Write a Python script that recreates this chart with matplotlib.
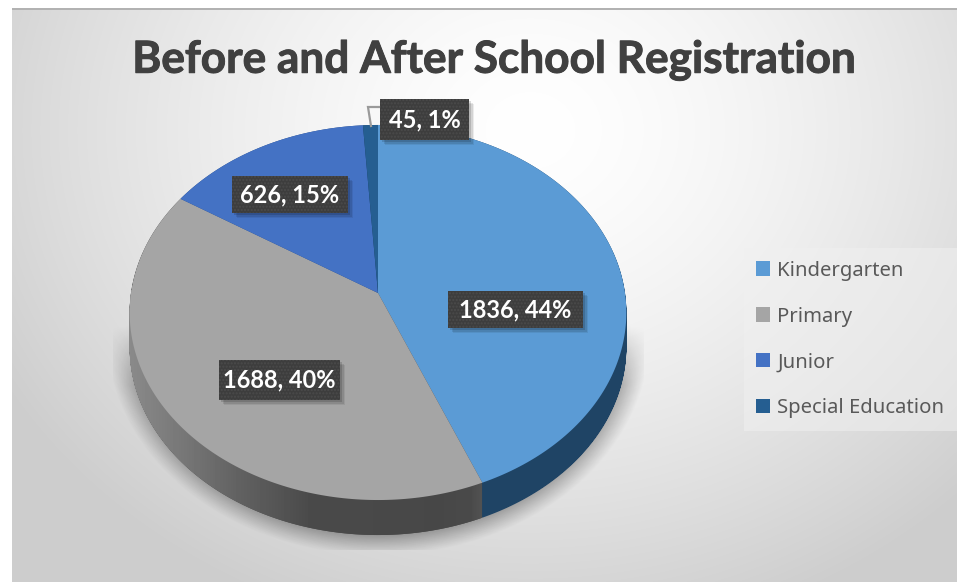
import numpy as np
import matplotlib
matplotlib.use("Agg")
import matplotlib.pyplot as plt
import matplotlib.patheffects as pe
from matplotlib.path import Path
from matplotlib.patches import PathPatch, Rectangle
from matplotlib.transforms import Transform

title = "Before and After School Registration"
categories = ["Kindergarten", "Primary", "Junior", "Special Education"]
values = [1836, 1688, 626, 45]
percents = [44, 40, 15, 1]
colors = ["#5b9bd5", "#a5a5a5", "#4472c4", "#255e91"]

W, H = 957, 582
CX, CY, SX, K, C = 378, 293, 247, 185.5, 0.104
DEPTH = 35


def flatten(path):
    """Sample every curve of a wedge outline densely."""
    pts = []
    for bez, code in path.iter_bezier():
        if code == Path.MOVETO:
            pts.append(bez.control_points[0][None, :])
        else:
            pts.append(bez(np.linspace(0, 1, 40)[1:]))
    return np.vstack(pts)


class Persp(Transform):
    input_dims = output_dims = 2
    is_separable = False
    has_inverse = False

    def transform_non_affine(self, v):
        v = np.asarray(v, float)
        d = 1 + C * v[:, 1]
        return np.column_stack((CX + SX * v[:, 0] / d, CY - K * v[:, 1] / d))

    def transform_path_non_affine(self, path):
        return Path(self.transform_non_affine(flatten(path)))


fig = plt.figure(figsize=(W / 100, H / 100), dpi=100, facecolor="white")
ax = fig.add_axes([0, 0, 1, 1])

# background
yy, xx = np.mgrid[0:H, 0:W]
d = np.sqrt(((xx - 530) / 610.0) ** 2 + ((yy - 130) / 520.0) ** 2)
v = np.clip(255 - 50 * d ** 1.5, 205, 255) / 255
bg = np.dstack((v, v, v, (xx >= 12) & (yy >= 8)))
bg[(yy >= 8) & (yy < 10) & (xx >= 12)] = (0.70, 0.70, 0.70, 1)
ax.imshow(bg.astype(float), extent=(0, W, H, 0), zorder=0, interpolation="bilinear")

# soft shadow under the pie
r = np.sqrt(((xx - 378) / 272.0) ** 2 + ((yy - 335) / 220.0) ** 2)
a = (np.clip((1.0 - r) / 0.12, 0, 1) ** 1.1 * 0.42 * np.clip((yy - 325) / 60.0, 0, 1)
     * (yy < 550) * (xx >= 113) * (xx <= 643))
ax.imshow(np.dstack((np.zeros_like(a), np.zeros_like(a), np.zeros_like(a), a)),
          extent=(0, W, H, 0), zorder=1)

wedges, _ = ax.pie(values, colors=colors, startangle=90, counterclock=False, radius=1, frame=True)
persp = Persp()
for w in wedges:
    w.set_transform(persp + ax.transData)
    w.set_zorder(5)
    w.set_linewidth(0)

ax.set_aspect("auto")
ax.axis("off")

# extruded side walls
side_colors = ["#1f4465", "#4a4a4a", "#2b4a80", "#173a5c"]
for w, col in zip(wedges, side_colors):
    poly = persp.transform_non_affine(flatten(w.get_path()))
    copies = [Path(poly + [0, s]) for s in np.linspace(0, DEPTH, DEPTH + 1)]
    patch = PathPatch(Path.make_compound_path(*copies), facecolor=col, lw=0, zorder=3)
    ax.add_patch(patch)
    if col == "#4a4a4a":
        grad = np.interp(np.arange(125, 482), [130, 180, 240, 310, 440, 470, 481],
                         [0.54, 0.47, 0.38, 0.29, 0.28, 0.29, 0.32])
        im = ax.imshow(grad[None, :], extent=(125, 482, 560, 290), cmap="gray", vmin=0, vmax=1,
                       zorder=4, aspect="auto")
        im.set_clip_path(patch)
ax.set_xlim(0, W)
ax.set_ylim(H, 0)

# leader line of the smallest slice
ax.plot([380, 368, 371], [107, 107, 126], color="#9a9a9a", lw=1.6, zorder=6, solid_joinstyle="miter")

# data labels
boxes = [(448, 291, 135, 37), (219, 360, 121, 40), (232, 176, 116, 37), (380, 99, 89, 41)]
for val, pct, (bx, by, bw, bh) in zip(values, percents, boxes):
    for off, al in ((5, 0.07), (3.5, 0.10), (2, 0.14)):
        ax.add_patch(Rectangle((bx + off, by + off), bw, bh, facecolor="black", alpha=al, lw=0, zorder=7))
    ax.add_patch(Rectangle((bx, by), bw, bh, facecolor="#3d3d3d", edgecolor="#4b4b4b", hatch=".....", lw=0, zorder=8))
    ax.text(bx + bw / 2, by + bh / 2, f"{val}, {pct}%", color="white", fontsize=17, fontweight="bold",
            family=["Lato", "DejaVu Sans"], ha="center", va="center", zorder=9)

# title
ax.text(494, 60, title, color="#404040", fontsize=31.8, fontweight="bold",
        family=["Lato", "DejaVu Sans"], ha="center", va="center", zorder=9,
        path_effects=[pe.withStroke(linewidth=0.7, foreground="#404040")])

# legend
leg = ax.legend(wedges, categories, loc="upper right", bbox_to_anchor=(1.0, 1 - 248 / H),
                bbox_transform=ax.transAxes, frameon=True, fancybox=False, framealpha=0.55,
                facecolor="#f0f0f0", edgecolor="none", labelcolor="#595959",
                handlelength=0.7, handleheight=0.7, handletextpad=0.35, labelspacing=1.28,
                borderaxespad=0, borderpad=0.62, prop={"family": ["Noto Sans", "DejaVu Sans"], "size": 14.6})
leg.set_zorder(10)

fig.savefig("out.png", dpi=100, facecolor="white")
